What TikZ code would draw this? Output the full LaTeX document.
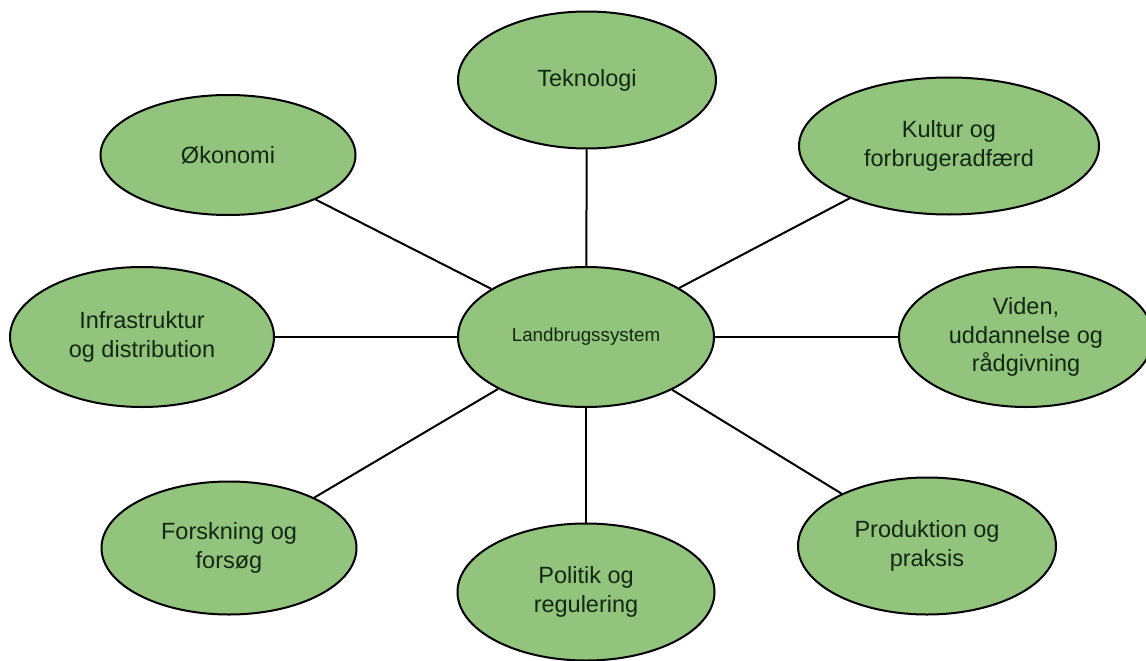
\documentclass[tikz,border=0pt]{standalone}
\usepackage{fontspec}
\setmainfont{Liberation Sans}
\usetikzlibrary{shapes.geometric}
\definecolor{blobfill}{HTML}{93C47D}
\definecolor{blobtext}{RGB}{18,40,18}
\begin{document}
\begin{tikzpicture}[x=1pt,y=-1pt,
  blob/.style 2 args={ellipse, draw=black, line width=2pt, fill=blobfill,
    inner sep=0pt, minimum width=#1, minimum height=#2, align=center,
    text=blobtext, font=\fontsize{23.5}{28.5}\selectfont},
  link/.style={draw=black, line width=2pt}]
\useasboundingbox (0,0) rectangle (1146,661);
\clip (0,0) rectangle (1146,661);
\node[blob={258}{137}] (tek) at (587,80) {Teknologi};
\node[blob={255}{120}] (oko) at (228,155) {Økonomi};
\node[blob={300}{137}] (kul) at (949,146) {Kultur og\\forbrugeradfærd};
\node[blob={264}{140}] (inf) at (142,337) {Infrastruktur\\og distribution};
\node[blob={256}{140}, font=\fontsize{18.8}{22}\selectfont] (lan) at (586,337) {Landbrugssystem};
\node[blob={254}{140}] (vid) at (1026,337) {Viden,\\uddannelse og\\rådgivning};
\node[blob={255}{133}] (for) at (229,548) {Forskning og\\forsøg};
\node[blob={257}{137}] (pol) at (586,592) {Politik og\\regulering};
\node[blob={258}{137}] (pro) at (927,546) {Produktion og\\praksis};
\draw[link] (lan) -- (tek);
\draw[link] (lan) -- (oko);
\draw[link] (lan) -- (kul);
\draw[link] (lan) -- (inf);
\draw[link] (lan) -- (vid);
\draw[link] (lan) -- (for);
\draw[link] (lan) -- (pol);
\draw[link] (lan) -- (pro);
\end{tikzpicture}
\end{document}
